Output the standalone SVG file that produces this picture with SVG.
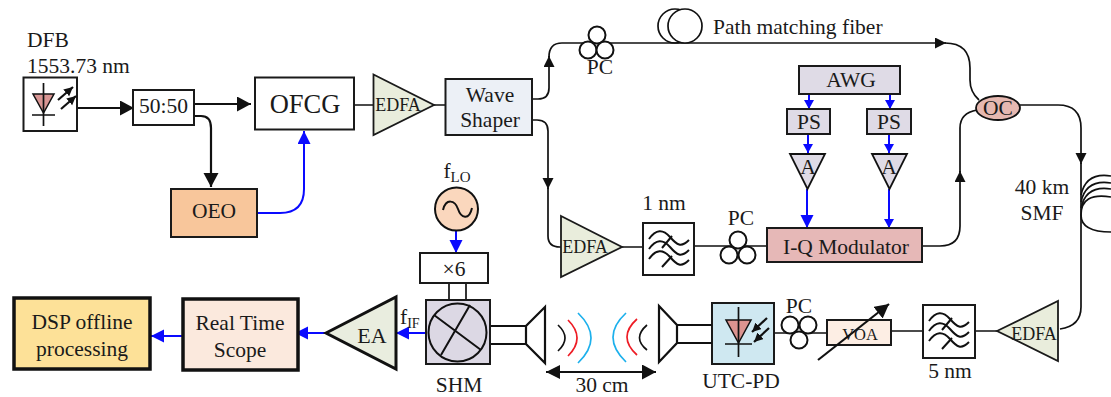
<svg xmlns="http://www.w3.org/2000/svg" width="1111" height="397" viewBox="0 0 1111 397">
<style>
text{font-family:"Liberation Serif","Times New Roman",serif;fill:#1a1a1a;font-size:21.5px;text-anchor:middle}
.s{text-anchor:start}
.e{font-size:18px}
.box{stroke:#1a1a1a;stroke-width:2;fill:#fff}
.thick{stroke:#111;stroke-width:3.5}
.w{fill:none;stroke:#111;stroke-width:2}
.k{fill:none;stroke:#111;stroke-width:1.7}
.kb{fill:none;stroke:#111;stroke-width:2.2}
.b{fill:none;stroke:#0a0aff;stroke-width:2}
.edfa{fill:#e9eddc;stroke:#1a1a1a;stroke-width:1.8}
.pc{fill:#fff;stroke:#111;stroke-width:2}
</style>
<defs>
<marker id="kL" markerUnits="userSpaceOnUse" markerWidth="16" markerHeight="16" refX="14" refY="7.500" orient="auto"><path d="M0,0L14,7.500L0,15z" fill="#111"/></marker>
<marker id="kS" markerUnits="userSpaceOnUse" markerWidth="13" markerHeight="13" refX="11" refY="5.500" orient="auto"><path d="M0,0L11,5.500L0,11z" fill="#111"/></marker>
<marker id="kT" markerUnits="userSpaceOnUse" markerWidth="11" markerHeight="11" refX="9" refY="4.500" orient="auto"><path d="M0,0L9,4.500L0,9z" fill="#111"/></marker>
<marker id="kR" markerUnits="userSpaceOnUse" markerWidth="16" markerHeight="16" refX="0" refY="7" orient="auto"><path d="M14,0L0,7L14,14z" fill="#111"/></marker>
<marker id="bL" markerUnits="userSpaceOnUse" markerWidth="15" markerHeight="15" refX="13" refY="6.500" orient="auto"><path d="M0,0L13,6.500L0,13z" fill="#0a0aff"/></marker>
<marker id="bS" markerUnits="userSpaceOnUse" markerWidth="11" markerHeight="11" refX="9" refY="5" orient="auto"><path d="M0,0L9,5L0,10z" fill="#0a0aff"/></marker>
<g id="waves"><path class="w" d="M6,16C13,6 20,6 27,14S38,25 46,17M6,26C13,16 20,16 27,24S38,35 46,27M6,36C13,26 20,26 27,34S38,45 46,37"/><path class="w" d="M19,25L29,13M19,44L29,33"/></g>
</defs>
<g id="connectors">
<path class="kb" marker-end="url(#kL)" d="M77,108H134"/>
<path class="kb" marker-end="url(#kL)" d="M195,104H251"/>
<path class="kb" marker-end="url(#kL)" d="M194,116H201Q211,116 211,128V187"/>
<path class="b" marker-end="url(#bL)" d="M257,213H280Q304,213 304,189V131"/>
<path class="k" d="M354,105H373M434,105H445"/>
<path class="k" marker-end="url(#kS)" d="M532,99H538Q549,99 549,88V56"/>
<path class="k" marker-end="url(#kS)" d="M549,57Q549,43 562,43H946"/>
<path class="k" d="M945,43Q970,43 970,68V80Q970,92 979,100"/>
<path class="k" marker-end="url(#kS)" d="M532,120H537Q548,120 548,131V189"/>
<path class="k" d="M548,188V236Q548,247 560,247H562"/>
<path class="k" d="M622,247H643M694,246H767"/>
<path class="b" marker-end="url(#bS)" d="M809,94V109"/>
<path class="b" marker-end="url(#bS)" d="M890,93V109"/>
<path class="b" marker-end="url(#bS)" d="M808,134V153"/>
<path class="b" marker-end="url(#bS)" d="M889,134V153"/>
<path class="b" marker-end="url(#bL)" d="M807,189V228"/>
<path class="b" marker-end="url(#bS)" d="M889,189V228"/>
<path class="k" marker-end="url(#kS)" d="M923,246H940Q960,246 960,226V171"/>
<path class="k" d="M960,172V128Q960,113 977,110"/>
<path class="k" marker-end="url(#kS)" d="M1020,105H1058Q1081,105 1081,128V164"/>
<path class="k" d="M1081,163V307Q1081,326 1060,329"/>
<path class="k" d="M975,331H997M891,331H923M774,333H827"/>
<path class="b" marker-end="url(#bL)" d="M456,231V253"/>
<path class="k" d="M449,283V300M466,283V300"/>
<path class="b" marker-end="url(#bL)" d="M425,333H396"/>
<path class="b" marker-end="url(#bL)" d="M326,333H295"/>
<path class="b" marker-end="url(#bL)" d="M182,336H151"/>
<path class="kb" marker-start="url(#kR)" marker-end="url(#kL)" d="M546,372H656"/>
</g>
<g id="dfb"><text class="s" x="27" y="47">DFB</text><text class="s" x="27" y="73">1553.73 nm</text>
<rect class="box" x="23.500" y="77.500" width="53.500" height="53.500"/>
<path d="M33,94H54L43.500,113z" fill="#d99694" stroke="#111" stroke-width="1.500"/>
<path class="k" d="M43.500,83V126M32,115H55"/>
<path class="kb" marker-end="url(#kT)" d="M58,100L73,87"/><path class="kb" marker-end="url(#kT)" d="M61,109L76,96"/></g>
<g id="splitter"><rect class="box" x="133" y="90" width="61" height="35"/><text x="163.500" y="113">50:50</text></g>
<g id="ofcg"><rect class="box" x="255" y="77.500" width="99" height="52"/><text x="305" y="113" style="font-size:26.500px">OFCG</text></g>
<g id="oeo"><rect class="box" x="171" y="189" width="86" height="48" style="fill:#f8c69b"/><text x="214" y="218">OEO</text></g>
<g id="edfa1"><path class="edfa" d="M373.500,74.500L434,105L373.500,135z"/><text class="e" x="398" y="111">EDFA</text></g>
<g id="waveshaper"><rect class="box" x="445.500" y="79" width="86.500" height="56" style="fill:#ecf0f6"/><text x="490" y="102">Wave</text><text x="490" y="127">Shaper</text></g>
<g id="pc1"><circle class="pc" cx="597" cy="35" r="8.500"/><circle class="pc" cx="588" cy="50" r="8.500"/><circle class="pc" cx="605" cy="50" r="8.500"/><text x="600" y="74">PC</text></g>
<g id="pathfiber"><circle class="k" cx="675" cy="26" r="17"/><circle class="k" cx="685" cy="26" r="17" style="fill:#fff"/><text class="s" x="713" y="34">Path matching fiber</text></g>
<g id="awg"><rect class="box" x="799" y="66" width="101" height="28" style="fill:#dfdbe6"/><text x="851" y="87">AWG</text></g>
<g id="ps1"><rect class="box" x="787" y="109" width="43" height="25" style="fill:#dfdbe6"/><text x="809" y="129">PS</text></g>
<g id="ps2"><rect class="box" x="867" y="109" width="44" height="25" style="fill:#dfdbe6"/><text x="889" y="129">PS</text></g>
<g id="a1"><path d="M790,154H825L807.500,189z" fill="#dfdbe6" stroke="#111" stroke-width="1.800"/><text x="808" y="174">A</text></g>
<g id="a2"><path d="M872,154H907L889.500,189z" fill="#dfdbe6" stroke="#111" stroke-width="1.800"/><text x="889" y="174">A</text></g>
<g id="iq"><rect class="box" x="767" y="228" width="155" height="34" style="fill:#e6b8b7"/><text x="846" y="254">I-Q Modulator</text></g>
<g id="oc"><ellipse cx="998" cy="108" rx="22" ry="12" fill="#e6b8b0" stroke="#111" stroke-width="1.800"/><text x="998" y="115">OC</text></g>
<g id="smf"><text x="1042" y="194">40 km</text><text x="1042" y="220">SMF</text>
<path class="k" d="M1111,176Q1086,172 1081,195M1111,183Q1086,179 1081,202M1111,189Q1086,185 1081,208M1111,197Q1081,192 1081,215Q1081,232 1111,232"/></g>
<g id="edfa2"><path class="edfa" d="M561,216L622,247L561,277z"/><text class="e" x="585" y="253">EDFA</text></g>
<g id="filter1"><text x="664" y="210">1 nm</text><rect class="box" x="643" y="223" width="51" height="52"/><use href="#waves" x="643" y="223"/></g>
<g id="pc2"><circle class="pc" cx="738" cy="240" r="8.500"/><circle class="pc" cx="729" cy="255" r="8.500"/><circle class="pc" cx="747" cy="255" r="8.500"/><text x="741" y="225">PC</text></g>
<g id="edfa3"><path class="edfa" d="M997,331L1058,301V361z"/><text class="e" x="1034" y="340">EDFA</text></g>
<g id="filter2"><rect class="box" x="923" y="305" width="52" height="53"/><use href="#waves" x="923" y="305"/><text x="950" y="378">5 nm</text></g>
<g id="voa"><rect class="box" x="827" y="320" width="64" height="25" style="fill:#fdeee4"/><text x="860" y="340" style="font-size:16.500px">VOA</text><path class="kb" marker-end="url(#kL)" d="M818,360L889,304"/></g>
<g id="pc3"><circle class="pc" cx="790" cy="325" r="8.500"/><circle class="pc" cx="808" cy="325" r="8.500"/><circle class="pc" cx="799" cy="340" r="8.500"/><text x="799" y="313">PC</text></g>
<g id="utcpd"><rect class="box" x="712" y="303" width="62" height="61" style="fill:#cfe8f1"/><path d="M726,320H751L738.500,343z" fill="#dc9490" stroke="#111" stroke-width="1.500"/><path class="k" d="M738.500,307V357M725,344H752"/>
<path class="kb" marker-end="url(#kT)" d="M767,318L752,332"/><path class="kb" marker-end="url(#kT)" d="M769,328L754,342"/><text x="741" y="388">UTC-PD</text></g>
<g id="horn-rx"><path class="kb" d="M677,325H712M677,343H712M659,306L677,325V343L659,362z"/></g>
<g id="horn-tx"><path class="kb" d="M490,326H526M490,344H526M545,307L526,326V344L545,363z"/></g>
<g id="waves-air" fill="none" stroke-width="1.700"><path stroke="#111" d="M558,325Q572,338 558,351M647,325Q632,338 647,350"/><path stroke="#ee1c25" d="M568,320Q586,338 568,356M637,319Q617,337 637,355"/><path stroke="#1cb0ec" d="M578,313Q604,338 578,363M626,313Q600,337 626,362"/><text x="602" y="392" stroke="none">30 cm</text></g>
<g id="lo"><circle cx="456.500" cy="209" r="21.500" fill="#fad7bd" stroke="#111" stroke-width="2"/><path class="w" d="M443,210C446,198 455,200 458,209S469,221 472,208"/><text x="457" y="178">f<tspan dy="4" style="font-size:15px">LO</tspan></text></g>
<g id="x6"><rect class="box" x="420" y="253" width="68" height="30"/><text x="454" y="276">×6</text></g>
<g id="shm"><rect class="box" x="426" y="300" width="64" height="64" style="fill:#dcd8e4"/><circle cx="457.500" cy="332.500" r="29" fill="none" stroke="#111" stroke-width="2"/><path class="w" d="M434,315L481,350M470,305L441,355"/><text x="459" y="392">SHM</text><text class="s" x="400" y="324">f<tspan dy="4" style="font-size:14px">IF</tspan></text></g>
<g id="ea"><path d="M326,333L396,297V369z" fill="#e9eddf" stroke="#111" stroke-width="3"/><text x="372" y="343" style="font-size:22px">EA</text></g>
<g id="scope"><rect class="thick" x="183" y="299" width="115" height="71" fill="#fbe9dd"/><text x="240" y="330">Real Time</text><text x="240" y="357">Scope</text></g>
<g id="dsp"><rect class="thick" x="14" y="298" width="136" height="71" fill="#fde198"/><text x="82" y="329">DSP offline</text><text x="82" y="356">processing</text></g>
</svg>
